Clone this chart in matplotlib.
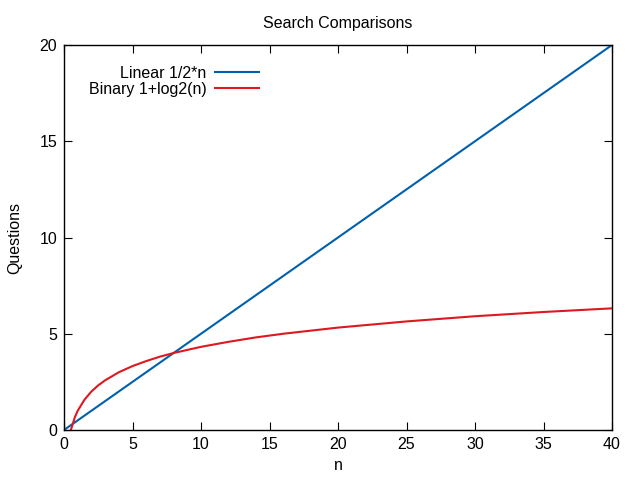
import matplotlib
matplotlib.use('Agg')
import matplotlib.pyplot as plt

plt.rcParams['font.family'] = ['Liberation Sans', 'DejaVu Sans']

# values
lin_n = [0, 40]
lin_q = [0, 20]
bin_n = [0.5, 0.8, 1, 1.5, 2, 2.5, 3, 4, 5, 6, 7, 8, 10, 12, 14, 16, 20, 25, 30, 35, 40]
bin_q = [0.0, 0.68, 1.0, 1.58, 2.0, 2.32, 2.58, 3.0, 3.32, 3.58, 3.81, 4.0, 4.32,
         4.58, 4.81, 5.0, 5.32, 5.64, 5.91, 6.13, 6.32]
xticks = [0, 5, 10, 15, 20, 25, 30, 35, 40]
yticks = [0, 5, 10, 15, 20]

fig = plt.figure(figsize=(6.4, 4.8), dpi=100)
ax = fig.add_axes([64 / 640, 50 / 480, 548 / 640, 385 / 480])

ax.plot(lin_n, lin_q, color='#0060ad', linewidth=1.5, label='Linear 1/2*n')
ax.plot(bin_n, bin_q, color='#dd181f', linewidth=1.5, label='Binary 1+log2(n)')

ax.set_xlim(0, 40)
ax.set_ylim(0, 20)
ax.set_xticks(xticks)
ax.set_yticks(yticks)
ax.tick_params(direction='in', top=True, right=True, length=6, labelsize=11.5, pad=5)
for s in ax.spines.values():
    s.set_linewidth(1)

ax.set_xlabel('n', fontsize=11.5, labelpad=4)
ax.set_ylabel('Questions', fontsize=11.5, labelpad=12)
ax.set_title('Search Comparisons', fontsize=11.5, pad=12)

ax.legend(loc='upper left', bbox_to_anchor=(0.025, 0.975), frameon=False,
          markerfirst=False, fontsize=11.5, handlelength=2.7, labelspacing=0.05,
          handletextpad=0.55, borderaxespad=0.3)

fig.savefig('out.png', dpi=100)
